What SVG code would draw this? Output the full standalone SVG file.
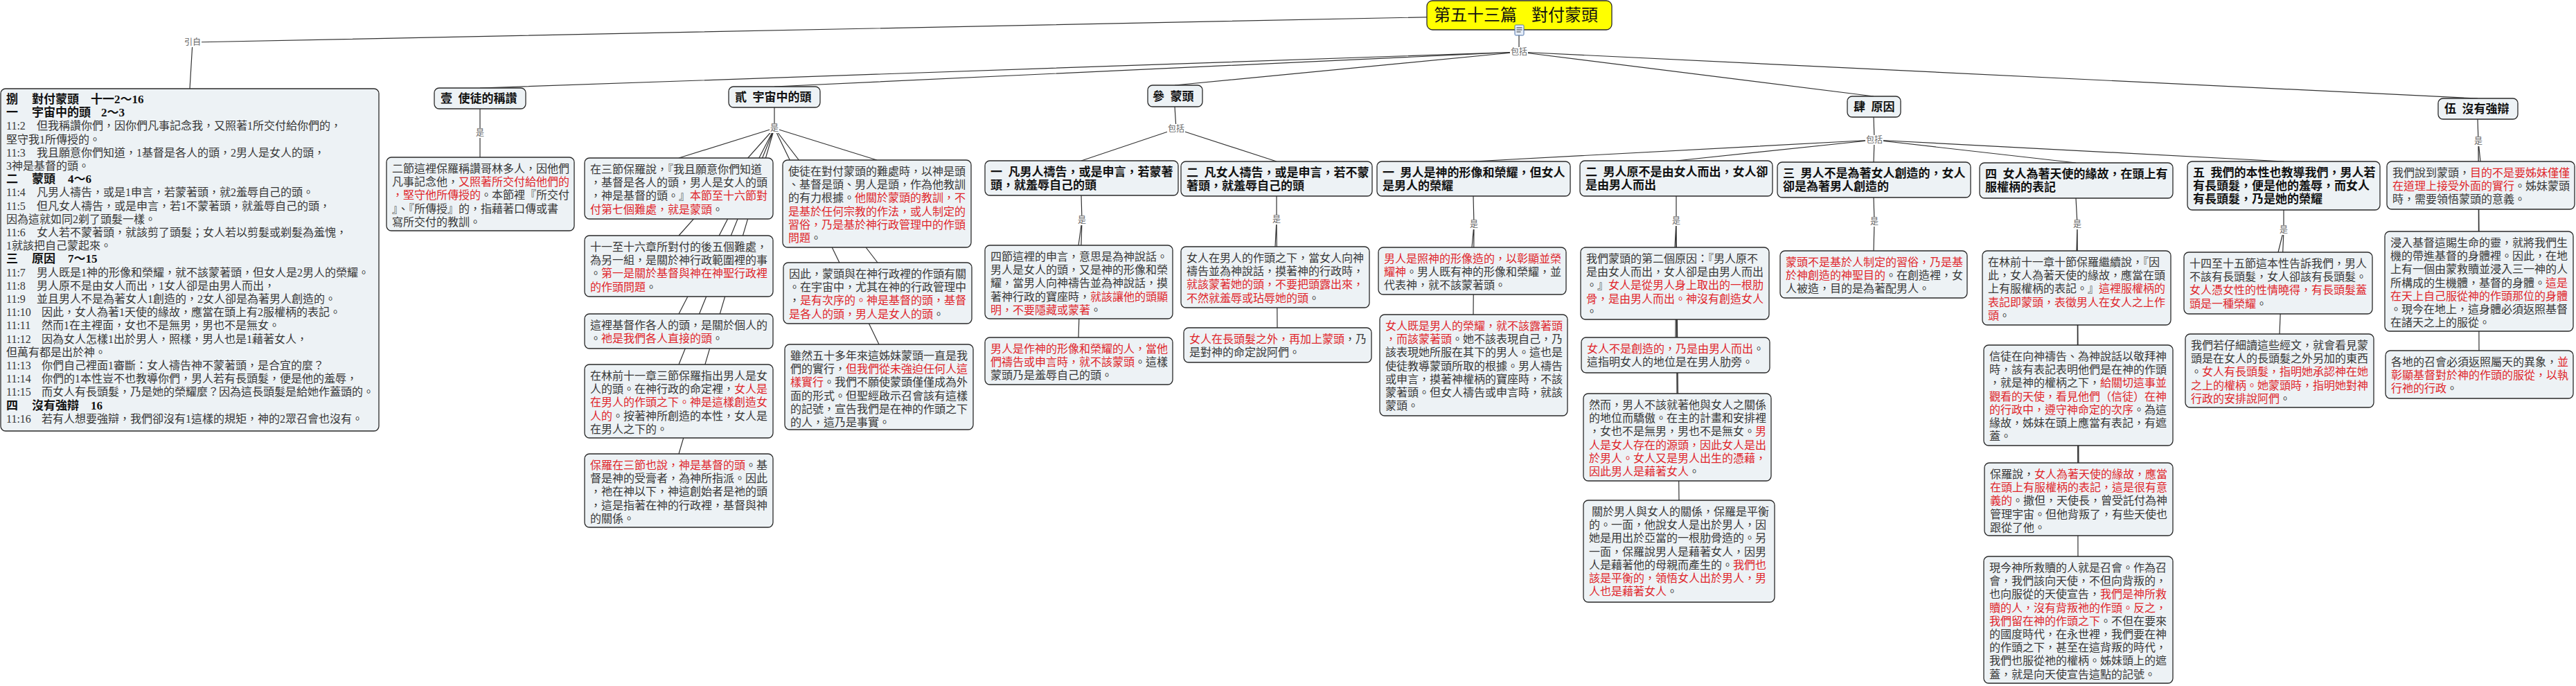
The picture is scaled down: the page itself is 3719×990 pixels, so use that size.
<svg xmlns="http://www.w3.org/2000/svg" width="3719" height="990" viewBox="0 0 3719 990">
<style>
.box{fill:#edf2f5;stroke:#2a2a2a;stroke-width:1.3}
.t{font-family:"Liberation Serif","Noto Sans CJK TC",serif;font-size:16px;fill:#383838}
.h{font-family:"Liberation Serif","Noto Sans CJK TC",serif;font-size:17px;font-weight:bold;fill:#111}
.r{fill:#e0262b}
.lb{font-family:"Noto Sans CJK TC",sans-serif;font-size:12px;fill:#666;text-anchor:middle}
.lbg{fill:#ffffff}
.c{stroke:#333;stroke-width:1.2;fill:none}
</style>
<rect x="0" y="0" width="3719" height="990" fill="#ffffff"/>
<g id="connectors">
<path class="c" d="M2193,22 L278,61 M278,61 L274,128 M2193,43 L2193,75"/>
<path class="c" d="M2193,75 L693,127 M2193,75 L1118,125 M2193,75 L1696,123 M2193,75 L2705,139 M2193,75 L3577,142"/>
<path class="c" d="M693,157 L693,192 L693,227"/>
<path class="c" d="M1118,155 L1118,185 M1118,185 L980,228 M1118,185 L980,340 M1118,185 L980,453 M1118,185 L980,526 M1118,185 L980,655 M1118,185 L1266,231 M1118,185 L1267,379 M1118,185 L1269,497"/>
<path class="c" d="M1696,154 L1698,186 M1698,186 L1561,232 M1698,186 L1843,233"/>
<path class="c" d="M1561,282 L1562,318 M1562,318 L1557,354 M1562,318 L1557,487"/>
<path class="c" d="M1843,283 L1843,317 M1843,317 L1841,356 M1843,317 L1844,473"/>
<path class="c" d="M2705,169 L2706,202 M2706,202 L2127,233 M2706,202 L2420,232 M2706,202 L2705,234 M2706,202 L2997,235 M2706,202 L3297,233"/>
<path class="c" d="M2127,283 L2128,324 M2128,324 L2125,357 M2128,324 L2127,454"/>
<path class="c" d="M2420,283 L2420,319 M2420,319 L2418,357 M2420,319 L2419,487 M2420,319 L2421,568 M2420,319 L2424,722"/>
<path class="c" d="M2705,285 L2706,320 M2706,320 L2705,362"/>
<path class="c" d="M2997,286 L2999,324 M2999,324 L2998,362 M2999,324 L3000,498 M2999,324 L3001,668 M2999,324 L3000,803"/>
<path class="c" d="M3297,303 L3297,332 M3297,332 L3289,364 M3297,332 L3291,482"/>
<path class="c" d="M3577,172 L3578,204 M3578,204 L3581,233 M3578,204 L3579,334 M3578,204 L3579,506"/>
</g>
<g id="labels">
<rect class="lbg" x="265" y="54" width="26" height="14"/><text class="lb" x="278" y="65">引自</text>
<rect class="lbg" x="2180" y="68" width="26" height="14"/><text class="lb" x="2193" y="79">包括</text>
<rect class="lbg" x="686" y="185" width="14" height="14"/><text class="lb" x="693" y="196">是</text>
<rect class="lbg" x="1111" y="178" width="14" height="14"/><text class="lb" x="1118" y="189">是</text>
<rect class="lbg" x="1685" y="179" width="26" height="14"/><text class="lb" x="1698" y="190">包括</text>
<rect class="lbg" x="1555" y="311" width="14" height="14"/><text class="lb" x="1562" y="322">是</text>
<rect class="lbg" x="1836" y="310" width="14" height="14"/><text class="lb" x="1843" y="321">是</text>
<rect class="lbg" x="2693" y="195" width="26" height="14"/><text class="lb" x="2706" y="206">包括</text>
<rect class="lbg" x="2121" y="317" width="14" height="14"/><text class="lb" x="2128" y="328">是</text>
<rect class="lbg" x="2413" y="312" width="14" height="14"/><text class="lb" x="2420" y="323">是</text>
<rect class="lbg" x="2699" y="313" width="14" height="14"/><text class="lb" x="2706" y="324">是</text>
<rect class="lbg" x="2992" y="317" width="14" height="14"/><text class="lb" x="2999" y="328">是</text>
<rect class="lbg" x="3290" y="325" width="14" height="14"/><text class="lb" x="3297" y="336">是</text>
<rect class="lbg" x="3571" y="197" width="14" height="14"/><text class="lb" x="3578" y="208">是</text>
</g>
<g id="title">
<rect x="2060" y="1" width="267" height="42" rx="8" fill="#ffff00" stroke="#2a2a2a" stroke-width="1.3"/>
<text x="2070" y="30" style="font-family:'Liberation Serif','Noto Sans CJK TC',serif;font-size:24px;fill:#111">第五十三篇<tspan x="2211">對付蒙頭</tspan></text>
<rect x="2187" y="36" width="13" height="15" rx="1.5" fill="#e6eef9" stroke="#4a6fa5" stroke-width="1"/>
<path d="M2189.5,40 h8 M2189.5,43 h8 M2189.5,46 h6" stroke="#333" stroke-width="1"/>
</g>
<g id="n-ba">
<rect class="box" x="1" y="128" width="546" height="494" rx="7"/>
<text class="t">
<tspan class="h" x="9" y="149">捌</tspan><tspan class="h" x="46" y="149">對付蒙頭</tspan><tspan class="h" x="131" y="149">十一2～16</tspan>
<tspan class="h" x="9" y="168.2">一</tspan><tspan class="h" x="46" y="168.2">宇宙中的頭</tspan><tspan class="h" x="146" y="168.2">2～3</tspan>
<tspan x="9" y="187.4">11:2</tspan><tspan x="53" y="187.4">但我稱讚你們，因你們凡事記念我，又照著1所交付給你們的，</tspan>
<tspan x="9" y="206.6">堅守我1所傳授的。</tspan>
<tspan x="9" y="225.8">11:3</tspan><tspan x="53" y="225.8">我且願意你們知道，1基督是各人的頭，2男人是女人的頭，</tspan>
<tspan x="9" y="245">3神是基督的頭。</tspan>
<tspan class="h" x="9" y="264.2">二</tspan><tspan class="h" x="46" y="264.2">蒙頭</tspan><tspan class="h" x="98" y="264.2">4～6</tspan>
<tspan x="9" y="283.4">11:4</tspan><tspan x="53" y="283.4">凡男人禱告，或是1申言，若蒙著頭，就2羞辱自己的頭。</tspan>
<tspan x="9" y="302.6">11:5</tspan><tspan x="53" y="302.6">但凡女人禱告，或是申言，若1不蒙著頭，就羞辱自己的頭，</tspan>
<tspan x="9" y="321.8">因為這就如同2剃了頭髮一樣。</tspan>
<tspan x="9" y="341">11:6</tspan><tspan x="53" y="341">女人若不蒙著頭，就該剪了頭髮；女人若以剪髮或剃髮為羞愧，</tspan>
<tspan x="9" y="360.2">1就該把自己蒙起來。</tspan>
<tspan class="h" x="9" y="379.4">三</tspan><tspan class="h" x="46" y="379.4">原因</tspan><tspan class="h" x="98" y="379.4">7～15</tspan>
<tspan x="9" y="398.6">11:7</tspan><tspan x="53" y="398.6">男人既是1神的形像和榮耀，就不該蒙著頭，但女人是2男人的榮耀。</tspan>
<tspan x="9" y="417.8">11:8</tspan><tspan x="53" y="417.8">男人原不是由女人而出，1女人卻是由男人而出，</tspan>
<tspan x="9" y="437">11:9</tspan><tspan x="53" y="437">並且男人不是為著女人1創造的，2女人卻是為著男人創造的。</tspan>
<tspan x="9" y="456.2">11:10</tspan><tspan x="60" y="456.2">因此，女人為著1天使的緣故，應當在頭上有2服權柄的表記。</tspan>
<tspan x="9" y="475.4">11:11</tspan><tspan x="60" y="475.4">然而1在主裡面，女也不是無男，男也不是無女。</tspan>
<tspan x="9" y="494.6">11:12</tspan><tspan x="60" y="494.6">因為女人怎樣1出於男人，照樣，男人也是1藉著女人，</tspan>
<tspan x="9" y="513.8">但萬有都是出於神。</tspan>
<tspan x="9" y="533">11:13</tspan><tspan x="60" y="533">你們自己裡面1審斷：女人禱告神不蒙著頭，是合宜的麼？</tspan>
<tspan x="9" y="552.2">11:14</tspan><tspan x="60" y="552.2">你們的1本性豈不也教導你們，男人若有長頭髮，便是他的羞辱，</tspan>
<tspan x="9" y="571.4">11:15</tspan><tspan x="60" y="571.4">而女人有長頭髮，乃是她的榮耀麼？因為這長頭髮是給她作蓋頭的。</tspan>
<tspan class="h" x="9" y="590.6">四</tspan><tspan class="h" x="46" y="590.6">沒有強辯</tspan><tspan class="h" x="131" y="590.6">16</tspan>
<tspan x="9" y="609.8">11:16</tspan><tspan x="60" y="609.8">若有人想要強辯，我們卻沒有1這樣的規矩，神的2眾召會也沒有。</tspan>
</text>
</g>
<g id="n-1">
<rect class="box" x="627" y="127" width="132" height="30" rx="7"/>
<text class="h" x="636" y="148">壹&#8194;使徒的稱讚</text>
</g>
<g id="n-1-1">
<rect class="box" x="558" y="227" width="271" height="106" rx="7"/>
<text class="t">
<tspan x="566" y="249">二節這裡保羅稱讚哥林多人，因他們</tspan>
<tspan x="566" y="268.2">凡事記念他，<tspan class="r">又照著所交付給他們的</tspan></tspan>
<tspan x="566" y="287.4"><tspan class="r">，堅守他所傳授的</tspan>。本節裡『所交付</tspan>
<tspan x="566" y="306.6">』、『所傳授』的，指藉著口傳或書</tspan>
<tspan x="566" y="325.8">寫所交付的教訓。</tspan>
</text>
</g>
<g id="n-2">
<rect class="box" x="1052" y="125" width="132" height="30" rx="7"/>
<text class="h" x="1061" y="146">貳&#8194;宇宙中的頭</text>
</g>
<g id="n-2-a">
<rect class="box" x="844" y="228" width="272" height="88" rx="7"/>
<text class="t">
<tspan x="852" y="250">在三節保羅說，『我且願意你們知道</tspan>
<tspan x="852" y="269.2">，基督是各人的頭，男人是女人的頭</tspan>
<tspan x="852" y="288.4">，神是基督的頭。』<tspan class="r">本節至十六節對</tspan></tspan>
<tspan x="852" y="307.6"><tspan class="r">付第七個難處，就是蒙頭</tspan>。</tspan>
</text>
</g>
<g id="n-2-b">
<rect class="box" x="844" y="340" width="272" height="88" rx="7"/>
<text class="t">
<tspan x="852" y="362">十一至十六章所對付的後五個難處，</tspan>
<tspan x="852" y="381.2">為另一組，是關於神行政範圍裡的事</tspan>
<tspan x="852" y="400.4">。<tspan class="r">第一是關於基督與神在神聖行政裡</tspan></tspan>
<tspan x="852" y="419.6"><tspan class="r">的作頭問題</tspan>。</tspan>
</text>
</g>
<g id="n-2-c">
<rect class="box" x="844" y="453" width="272" height="50" rx="7"/>
<text class="t">
<tspan x="852" y="475">這裡基督作各人的頭，是關於個人的</tspan>
<tspan x="852" y="494.2">。<tspan class="r">祂是我們各人直接的頭</tspan>。</tspan>
</text>
</g>
<g id="n-2-d">
<rect class="box" x="844" y="526" width="272" height="106" rx="7"/>
<text class="t">
<tspan x="852" y="548">在林前十一章三節保羅指出男人是女</tspan>
<tspan x="852" y="567.2">人的頭。在神行政的命定裡，<tspan class="r">女人是</tspan></tspan>
<tspan x="852" y="586.4" class="r">在男人的作頭之下。神是這樣創造女</tspan>
<tspan x="852" y="605.6"><tspan class="r">人的</tspan>。按著神所創造的本性，女人是</tspan>
<tspan x="852" y="624.8">在男人之下的。</tspan>
</text>
</g>
<g id="n-2-e">
<rect class="box" x="844" y="655" width="272" height="106" rx="7"/>
<text class="t">
<tspan x="852" y="677"><tspan class="r">保羅在三節也說，神是基督的頭</tspan>。基</tspan>
<tspan x="852" y="696.2">督是神的受膏者，為神所指派。因此</tspan>
<tspan x="852" y="715.4">，祂在神以下，神這創始者是祂的頭</tspan>
<tspan x="852" y="734.6">，這是指著在神的行政裡，基督與神</tspan>
<tspan x="852" y="753.8">的關係。</tspan>
</text>
</g>
<g id="n-2-f">
<rect class="box" x="1130" y="231" width="272" height="126" rx="7"/>
<text class="t">
<tspan x="1138" y="253">使徒在對付蒙頭的難處時，以神是頭</tspan>
<tspan x="1138" y="272.2">、基督是頭、男人是頭，作為他教訓</tspan>
<tspan x="1138" y="291.4">的有力根據。<tspan class="r">他關於蒙頭的教訓，不</tspan></tspan>
<tspan x="1138" y="310.6" class="r">是基於任何宗教的作法，或人制定的</tspan>
<tspan x="1138" y="329.8" class="r">習俗，乃是基於神行政管理中的作頭</tspan>
<tspan x="1138" y="349"><tspan class="r">問題</tspan>。</tspan>
</text>
</g>
<g id="n-2-g">
<rect class="box" x="1131" y="379" width="272" height="88" rx="7"/>
<text class="t">
<tspan x="1139" y="401">因此，蒙頭與在神行政裡的作頭有關</tspan>
<tspan x="1139" y="420.2">。在宇宙中，尤其在神的行政管理中</tspan>
<tspan x="1139" y="439.4">，<tspan class="r">是有次序的。神是基督的頭，基督</tspan></tspan>
<tspan x="1139" y="458.6"><tspan class="r">是各人的頭，男人是女人的頭</tspan>。</tspan>
</text>
</g>
<g id="n-2-h">
<rect class="box" x="1133" y="497" width="272" height="123" rx="7"/>
<text class="t">
<tspan x="1141" y="519">雖然五十多年來這姊妹蒙頭一直是我</tspan>
<tspan x="1141" y="538.2">們的實行，<tspan class="r">但我們從未強迫任何人這</tspan></tspan>
<tspan x="1141" y="557.4"><tspan class="r">樣實行</tspan>。我們不願使蒙頭僅僅成為外</tspan>
<tspan x="1141" y="576.6">面的形式。但聖經啟示召會該有這樣</tspan>
<tspan x="1141" y="595.8">的記號，宣告我們是在神的作頭之下</tspan>
<tspan x="1141" y="615">的人，這乃是事實。</tspan>
</text>
</g>
<g id="n-3">
<rect class="box" x="1657" y="123" width="79" height="31" rx="7"/>
<text class="h" x="1664" y="145">參&#8194;蒙頭</text>
</g>
<g id="n-3-1">
<rect class="box" x="1422" y="232" width="279" height="50" rx="7"/>
<text class="h"><tspan x="1430" y="254">一&#8194;凡男人禱告，或是申言，若蒙著</tspan><tspan x="1430" y="273">頭，就羞辱自己的頭</tspan></text>
</g>
<g id="n-3-2">
<rect class="box" x="1705" y="233" width="276" height="50" rx="7"/>
<text class="h"><tspan x="1713" y="255">二&#8194;凡女人禱告，或是申言，若不蒙</tspan><tspan x="1713" y="274">著頭，就羞辱自己的頭</tspan></text>
</g>
<g id="n-3-1-1">
<rect class="box" x="1422" y="354" width="271" height="106" rx="7"/>
<text class="t">
<tspan x="1430" y="376">四節這裡的申言，意思是為神說話。</tspan>
<tspan x="1430" y="395.2">男人是女人的頭，又是神的形像和榮</tspan>
<tspan x="1430" y="414.4">耀，當男人向神禱告並為神說話，摸</tspan>
<tspan x="1430" y="433.6">著神行政的寶座時，<tspan class="r">就該讓他的頭顯</tspan></tspan>
<tspan x="1430" y="452.8"><tspan class="r">明，不要隱藏或蒙著</tspan>。</tspan>
</text>
</g>
<g id="n-3-1-2">
<rect class="box" x="1422" y="487" width="271" height="68" rx="7"/>
<text class="t">
<tspan x="1430" y="509" class="r">男人是作神的形像和榮耀的人，當他</tspan>
<tspan x="1430" y="528.2"><tspan class="r">們禱告或申言時，就不該蒙頭</tspan>。這樣</tspan>
<tspan x="1430" y="547.4">蒙頭乃是羞辱自己的頭。</tspan>
</text>
</g>
<g id="n-3-2-1">
<rect class="box" x="1705" y="356" width="272" height="88" rx="7"/>
<text class="t">
<tspan x="1713" y="378">女人在男人的作頭之下，當女人向神</tspan>
<tspan x="1713" y="397.2">禱告並為神說話，摸著神的行政時，</tspan>
<tspan x="1713" y="416.4" class="r">就該蒙著她的頭，不要把頭露出來，</tspan>
<tspan x="1713" y="435.6"><tspan class="r">不然就羞辱或玷辱她的頭</tspan>。</tspan>
</text>
</g>
<g id="n-3-2-2">
<rect class="box" x="1709" y="473" width="271" height="50" rx="7"/>
<text class="t">
<tspan x="1717" y="495"><tspan class="r">女人在長頭髮之外，再加上蒙頭</tspan>，乃</tspan>
<tspan x="1717" y="514.2">是對神的命定說阿們。</tspan>
</text>
</g>
<g id="n-4">
<rect class="box" x="2667" y="139" width="77" height="30" rx="7"/>
<text class="h" x="2676" y="160">肆&#8194;原因</text>
</g>
<g id="n-4-1">
<rect class="box" x="1988" y="233" width="279" height="50" rx="7"/>
<text class="h"><tspan x="1996" y="255">一&#8194;男人是神的形像和榮耀，但女人</tspan><tspan x="1996" y="274">是男人的榮耀</tspan></text>
</g>
<g id="n-4-2">
<rect class="box" x="2281" y="232" width="278" height="51" rx="7"/>
<text class="h"><tspan x="2289" y="254">二&#8194;男人原不是由女人而出，女人卻</tspan><tspan x="2289" y="273">是由男人而出</tspan></text>
</g>
<g id="n-4-3">
<rect class="box" x="2566" y="234" width="279" height="51" rx="7"/>
<text class="h"><tspan x="2574" y="256">三&#8194;男人不是為著女人創造的，女人</tspan><tspan x="2574" y="275">卻是為著男人創造的</tspan></text>
</g>
<g id="n-4-4">
<rect class="box" x="2858" y="235" width="279" height="51" rx="7"/>
<text class="h"><tspan x="2866" y="257">四&#8194;女人為著天使的緣故，在頭上有</tspan><tspan x="2866" y="276">服權柄的表記</tspan></text>
</g>
<g id="n-4-5">
<rect class="box" x="3158" y="233" width="278" height="70" rx="7"/>
<text class="h"><tspan x="3166" y="255">五&#8194;我們的本性也教導我們，男人若</tspan><tspan x="3166" y="274">有長頭髮，便是他的羞辱，而女人</tspan><tspan x="3166" y="293">有長頭髮，乃是她的榮耀</tspan></text>
</g>
<g id="n-4-1-1">
<rect class="box" x="1990" y="357" width="271" height="68" rx="7"/>
<text class="t">
<tspan x="1998" y="379" class="r">男人是照神的形像造的，以彰顯並榮</tspan>
<tspan x="1998" y="398.2"><tspan class="r">耀神</tspan>。男人既有神的形像和榮耀，並</tspan>
<tspan x="1998" y="417.4">代表神，就不該蒙著頭。</tspan>
</text>
</g>
<g id="n-4-1-2">
<rect class="box" x="1992" y="454" width="271" height="146" rx="7"/>
<text class="t">
<tspan x="2000" y="476" class="r">女人既是男人的榮耀，就不該露著頭</tspan>
<tspan x="2000" y="495.2"><tspan class="r">，而該蒙著頭</tspan>。她不該表現自己，乃</tspan>
<tspan x="2000" y="514.4">該表現她所服在其下的男人。這也是</tspan>
<tspan x="2000" y="533.6">使徒教導蒙頭所取的根據。男人禱告</tspan>
<tspan x="2000" y="552.8">或申言，摸著神權柄的寶座時，不該</tspan>
<tspan x="2000" y="572">蒙著頭。但女人禱告或申言時，就該</tspan>
<tspan x="2000" y="591.2">蒙頭。</tspan>
</text>
</g>
<g id="n-4-2-1">
<rect class="box" x="2282" y="357" width="272" height="104" rx="7"/>
<text class="t">
<tspan x="2290" y="379">我們蒙頭的第二個原因：『男人原不</tspan>
<tspan x="2290" y="398.2">是由女人而出，女人卻是由男人而出</tspan>
<tspan x="2290" y="417.4">。』<tspan class="r">女人是從男人身上取出的一根肋</tspan></tspan>
<tspan x="2290" y="436.6" class="r">骨，是由男人而出。神沒有創造女人</tspan>
<tspan x="2290" y="454.8">。</tspan>
</text>
</g>
<g id="n-4-2-2">
<rect class="box" x="2283" y="487" width="272" height="51" rx="7"/>
<text class="t">
<tspan x="2291" y="509"><tspan class="r">女人不是創造的，乃是由男人而出</tspan>。</tspan>
<tspan x="2291" y="528.2">這指明女人的地位是在男人肋旁。</tspan>
</text>
</g>
<g id="n-4-2-3">
<rect class="box" x="2286" y="568" width="271" height="126" rx="7"/>
<text class="t">
<tspan x="2294" y="590">然而，男人不該就著他與女人之關係</tspan>
<tspan x="2294" y="609.2">的地位而驕傲。在主的計畫和安排裡</tspan>
<tspan x="2294" y="628.4">，女也不是無男，男也不是無女。<tspan class="r">男</tspan></tspan>
<tspan x="2294" y="647.6" class="r">人是女人存在的源頭，因此女人是出</tspan>
<tspan x="2294" y="666.8" class="r">於男人。女人又是男人出生的憑藉，</tspan>
<tspan x="2294" y="686"><tspan class="r">因此男人是藉著女人</tspan>。</tspan>
</text>
</g>
<g id="n-4-2-4">
<rect class="box" x="2286" y="722" width="276" height="147" rx="7"/>
<text class="t">
<tspan x="2298" y="744">關於男人與女人的關係，保羅是平衡</tspan>
<tspan x="2294" y="763.2">的。一面，他說女人是出於男人，因</tspan>
<tspan x="2294" y="782.4">她是用出於亞當的一根肋骨造的。另</tspan>
<tspan x="2294" y="801.6">一面，保羅說男人是藉著女人，因男</tspan>
<tspan x="2294" y="820.8">人是藉著他的母親而產生的。<tspan class="r">我們也</tspan></tspan>
<tspan x="2294" y="840" class="r">該是平衡的，領悟女人出於男人，男</tspan>
<tspan x="2294" y="859.2"><tspan class="r">人也是藉著女人</tspan>。</tspan>
</text>
</g>
<g id="n-4-3-1">
<rect class="box" x="2570" y="362" width="270" height="68" rx="7"/>
<text class="t">
<tspan x="2578" y="384" class="r">蒙頭不是基於人制定的習俗，乃是基</tspan>
<tspan x="2578" y="403.2"><tspan class="r">於神創造的神聖目的</tspan>。在創造裡，女</tspan>
<tspan x="2578" y="422.4">人被造，目的是為著配男人。</tspan>
</text>
</g>
<g id="n-4-4-1">
<rect class="box" x="2862" y="362" width="272" height="107" rx="7"/>
<text class="t">
<tspan x="2870" y="384">在林前十一章十節保羅繼續說，『因</tspan>
<tspan x="2870" y="403.2">此，女人為著天使的緣故，應當在頭</tspan>
<tspan x="2870" y="422.4">上有服權柄的表記。』<tspan class="r">這裡服權柄的</tspan></tspan>
<tspan x="2870" y="441.6" class="r">表記即蒙頭，表徵男人在女人之上作</tspan>
<tspan x="2870" y="460.8"><tspan class="r">頭</tspan>。</tspan>
</text>
</g>
<g id="n-4-4-2">
<rect class="box" x="2864" y="498" width="273" height="145" rx="7"/>
<text class="t">
<tspan x="2872" y="520">信徒在向神禱告、為神說話以敬拜神</tspan>
<tspan x="2872" y="539.2">時，該有表記表明他們是在神的作頭</tspan>
<tspan x="2872" y="558.4">，就是神的權柄之下，<tspan class="r">給關切這事並</tspan></tspan>
<tspan x="2872" y="577.6" class="r">觀看的天使，看見他們（信徒）在神</tspan>
<tspan x="2872" y="596.8"><tspan class="r">的行政中，遵守神命定的次序</tspan>。為這</tspan>
<tspan x="2872" y="616">緣故，姊妹在頭上應當有表記，有遮</tspan>
<tspan x="2872" y="635.2">蓋。</tspan>
</text>
</g>
<g id="n-4-4-3">
<rect class="box" x="2865" y="668" width="272" height="105" rx="7"/>
<text class="t">
<tspan x="2873" y="690">保羅說，<tspan class="r">女人為著天使的緣故，應當</tspan></tspan>
<tspan x="2873" y="709.2" class="r">在頭上有服權柄的表記，這是很有意</tspan>
<tspan x="2873" y="728.4"><tspan class="r">義的</tspan>。撒但，天使長，曾受託付為神</tspan>
<tspan x="2873" y="747.6">管理宇宙。但他背叛了，有些天使也</tspan>
<tspan x="2873" y="766.8">跟從了他。</tspan>
</text>
</g>
<g id="n-4-4-4">
<rect class="box" x="2864" y="803" width="273" height="183" rx="7"/>
<text class="t">
<tspan x="2872" y="825">現今神所救贖的人就是召會。作為召</tspan>
<tspan x="2872" y="844.2">會，我們該向天使，不但向背叛的，</tspan>
<tspan x="2872" y="863.4">也向服從的天使宣告，<tspan class="r">我們是神所救</tspan></tspan>
<tspan x="2872" y="882.6" class="r">贖的人，沒有背叛祂的作頭。反之，</tspan>
<tspan x="2872" y="901.8"><tspan class="r">我們留在神的作頭之下</tspan>。不但在要來</tspan>
<tspan x="2872" y="921">的國度時代，在永世裡，我們要在神</tspan>
<tspan x="2872" y="940.2">的作頭之下，甚至在這背叛的時代，</tspan>
<tspan x="2872" y="959.4">我們也服從祂的權柄。姊妹頭上的遮</tspan>
<tspan x="2872" y="978.6">蓋，就是向天使宣告這點的記號。</tspan>
</text>
</g>
<g id="n-4-5-1">
<rect class="box" x="3153" y="364" width="272" height="89" rx="7"/>
<text class="t">
<tspan x="3161" y="386">十四至十五節這本性告訴我們，男人</tspan>
<tspan x="3161" y="405.2">不該有長頭髮，女人卻該有長頭髮。</tspan>
<tspan x="3161" y="424.4" class="r">女人憑女性的性情曉得，有長頭髮蓋</tspan>
<tspan x="3161" y="443.6"><tspan class="r">頭是一種榮耀</tspan>。</tspan>
</text>
</g>
<g id="n-4-5-2">
<rect class="box" x="3155" y="482" width="272" height="106" rx="7"/>
<text class="t">
<tspan x="3163" y="504">我們若仔細讀這些經文，就會看見蒙</tspan>
<tspan x="3163" y="523.2">頭是在女人的長頭髮之外另加的東西</tspan>
<tspan x="3163" y="542.4">。<tspan class="r">女人有長頭髮，指明她承認神在她</tspan></tspan>
<tspan x="3163" y="561.6" class="r">之上的權柄。她蒙頭時，指明她對神</tspan>
<tspan x="3163" y="580.8"><tspan class="r">行政的安排說阿們</tspan>。</tspan>
</text>
</g>
<g id="n-5">
<rect class="box" x="3520" y="142" width="115" height="30" rx="7"/>
<text class="h" x="3529" y="163">伍&#8194;沒有強辯</text>
</g>
<g id="n-5-1">
<rect class="box" x="3446" y="233" width="271" height="69" rx="7"/>
<text class="t">
<tspan x="3454" y="255">我們說到蒙頭，<tspan class="r">目的不是要姊妹僅僅</tspan></tspan>
<tspan x="3454" y="274.2"><tspan class="r">在道理上接受外面的實行</tspan>。姊妹蒙頭</tspan>
<tspan x="3454" y="293.4">時，需要領悟蒙頭的意義。</tspan>
</text>
</g>
<g id="n-5-2">
<rect class="box" x="3443" y="334" width="272" height="144" rx="7"/>
<text class="t">
<tspan x="3451" y="356">浸入基督這賜生命的靈，就將我們生</tspan>
<tspan x="3451" y="375.2">機的帶進基督的身體裡。因此，在地</tspan>
<tspan x="3451" y="394.4">上有一個由蒙救贖並浸入三一神的人</tspan>
<tspan x="3451" y="413.6">所構成的生機體，基督的身體。<tspan class="r">這是</tspan></tspan>
<tspan x="3451" y="432.8" class="r">在天上自己服從神的作頭那位的身體</tspan>
<tspan x="3451" y="452">。現今在地上，這身體必須返照基督</tspan>
<tspan x="3451" y="471.2">在諸天之上的服從。</tspan>
</text>
</g>
<g id="n-5-3">
<rect class="box" x="3444" y="506" width="271" height="69" rx="7"/>
<text class="t">
<tspan x="3452" y="528">各地的召會必須返照屬天的異象，<tspan class="r">並</tspan></tspan>
<tspan x="3452" y="547.2" class="r">彰顯基督對於神的作頭的服從，以執</tspan>
<tspan x="3452" y="566.4"><tspan class="r">行祂的行政</tspan>。</tspan>
</text>
</g>
</svg>
